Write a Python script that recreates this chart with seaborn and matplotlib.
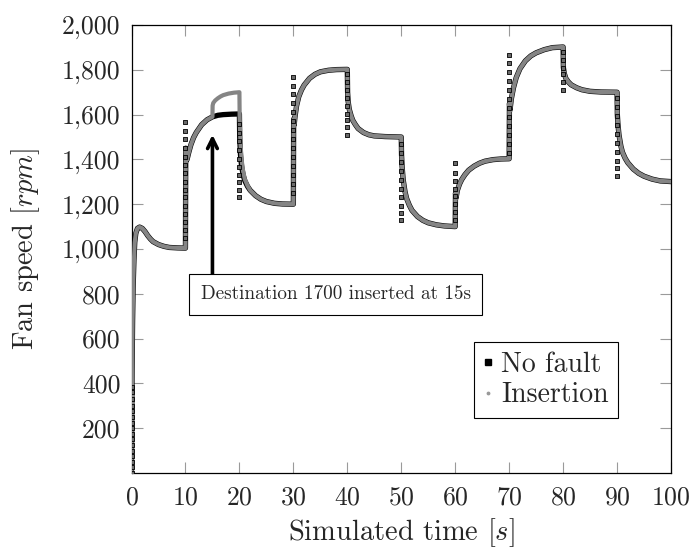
import matplotlib
matplotlib.use("Agg")
import matplotlib.pyplot as plt
import seaborn as sns
import pandas as pd
from matplotlib.lines import Line2D
from matplotlib.ticker import FuncFormatter

# ---- data ----
nofault_time = [0, 0.05, 0.1, 0.2, 0.3, 0.45, 0.6, 0.8, 1.1, 1.5, 2.0, 2.5, 3.0, 3.5, 4.0, 5.0, 6.0, 7.0, 8.5, 10.0,
                10.05, 10.15, 10.3, 10.6, 11.0, 11.5, 12.0, 13.0, 14.0, 15.0, 16.0, 17.0, 18.5, 20.0,
                20.05, 20.2, 20.4, 20.7, 21.0, 21.5, 22.0, 23.0, 24.0, 25.0, 26.5, 28.0, 30.0,
                30.05, 30.15, 30.3, 30.6, 31.0, 31.5, 32.0, 33.0, 34.0, 35.0, 36.5, 38.0, 40.0,
                40.05, 40.15, 40.35, 40.7, 41.0, 41.5, 42.0, 43.0, 44.0, 45.0, 47.0, 50.0,
                50.05, 50.15, 50.35, 50.7, 51.0, 51.5, 52.0, 53.0, 54.0, 55.0, 56.5, 58.0, 60.0,
                60.05, 60.15, 60.4, 60.8, 61.2, 61.8, 62.5, 63.5, 64.5, 65.5, 67.0, 68.5, 70.0,
                70.05, 70.15, 70.4, 70.8, 71.3, 72.0, 73.0, 74.0, 75.0, 76.5, 78.0, 80.0,
                80.05, 80.2, 80.5, 81.0, 81.5, 82.5, 83.5, 85.0, 87.0, 90.0,
                90.05, 90.15, 90.35, 90.7, 91.0, 91.5, 92.0, 93.0, 94.0, 95.0, 96.5, 98.0, 100.0]
nofault_speed = [0, 250, 450, 680, 830, 950, 1030, 1070, 1092, 1098, 1092, 1078, 1060, 1045, 1033, 1020, 1012, 1007, 1005, 1004,
                 1450, 1395, 1400, 1430, 1465, 1497, 1520, 1555, 1577, 1590, 1597, 1600, 1602, 1603,
                 1500, 1420, 1370, 1330, 1305, 1280, 1262, 1238, 1222, 1212, 1204, 1201, 1200,
                 1580, 1555, 1590, 1640, 1680, 1710, 1732, 1762, 1780, 1791, 1798, 1801, 1802,
                 1700, 1660, 1625, 1595, 1575, 1555, 1538, 1520, 1510, 1505, 1502, 1500,
                 1420, 1370, 1310, 1255, 1225, 1195, 1172, 1145, 1128, 1117, 1108, 1103, 1100,
                 1250, 1228, 1262, 1290, 1310, 1332, 1352, 1370, 1383, 1392, 1399, 1402, 1403,
                 1650, 1620, 1670, 1720, 1765, 1805, 1840, 1862, 1876, 1890, 1899, 1902,
                 1810, 1785, 1762, 1745, 1733, 1720, 1711, 1704, 1701, 1700,
                 1600, 1560, 1510, 1460, 1432, 1405, 1385, 1357, 1338, 1325, 1312, 1304, 1301]

# Insertion run differs from the fault-free run only between 15 s and ~21.5 s
insertion_window = (15.0, 21.5)
insertion_dev_time = [15.0, 15.03, 15.15, 15.5, 16.0, 16.5, 17.0, 18.0, 19.0, 20.0,
                      20.05, 20.2, 20.4, 20.7, 21.0, 21.5]
insertion_dev_speed = [1590, 1640, 1652, 1663, 1673, 1681, 1687, 1694, 1698, 1700,
                       1580, 1470, 1400, 1345, 1312, 1283]

# sampled points during the fast set-point changes (black squares)
step_times = [0, 10, 20, 30, 40, 50, 60, 70, 80, 90]
step_samples = [
    [0, 25, 50, 75, 100, 125, 150, 175, 200, 225, 250, 275, 300, 330, 360, 385],
    [1050, 1085, 1120, 1155, 1190, 1230, 1265, 1300, 1340, 1375, 1410, 1450, 1490, 1525, 1565],
    [1560, 1520, 1480, 1440, 1400, 1365, 1330, 1300, 1265, 1230],
    [1250, 1290, 1330, 1370, 1410, 1450, 1490, 1530, 1570, 1610, 1650, 1690, 1730, 1770],
    [1780, 1745, 1710, 1675, 1640, 1605, 1575, 1545, 1510],
    [1470, 1430, 1390, 1350, 1310, 1270, 1230, 1190, 1160, 1130],
    [1130, 1165, 1200, 1235, 1270, 1305, 1340, 1385],
    [1430, 1470, 1510, 1550, 1590, 1630, 1670, 1710, 1750, 1790, 1830, 1865],
    [1880, 1845, 1810, 1780, 1745, 1710],
    [1675, 1635, 1595, 1555, 1515, 1475, 1435, 1395, 1360, 1325],
]

x_ticks = list(range(0, 101, 10))
y_ticks = list(range(200, 2001, 200))
series_labels = ["No fault", "Insertion"]
annotation_text = "Destination 1700 inserted at 15s"
annotation_pos = (37.9, 797)
arrow_tip = (15, 1510)
arrow_tail = (15, 888)

# ---- build tables ----
df_nf = pd.DataFrame({"time": nofault_time, "speed": nofault_speed})
keep = (df_nf["time"] < insertion_window[0]) | (df_nf["time"] > insertion_window[1])
df_ins = pd.concat([df_nf[keep],
                    pd.DataFrame({"time": insertion_dev_time, "speed": insertion_dev_speed})]
                   ).sort_values("time").reset_index(drop=True)
df_steps = pd.DataFrame({
    "time": [t for t, vals in zip(step_times, step_samples) for _ in vals],
    "speed": [v for vals in step_samples for v in vals],
})

# ---- style ----
sns.set_style("ticks")
plt.rcParams.update({
    "font.family": ["cmr10", "DejaVu Serif"],
    "mathtext.fontset": "cm",
    "axes.formatter.use_mathtext": True,
    "axes.unicode_minus": False,
})

fig = plt.figure(figsize=(6.94, 5.5), dpi=100)
ax = fig.add_axes([0.1895, 0.14, 0.7774, 0.8145])

sns.lineplot(data=df_nf, x="time", y="speed", ax=ax, color="black", lw=3.8,
             estimator=None, sort=False, zorder=2)
sns.lineplot(data=df_ins, x="time", y="speed", ax=ax, color="#858585", lw=3.0,
             estimator=None, sort=False, zorder=3)
sns.scatterplot(data=df_steps, x="time", y="speed", ax=ax, marker="s", s=5,
                color="#6a6a6a", edgecolor="black", linewidth=0.6, zorder=4)

ax.set_xlim(0, 100)
ax.set_ylim(0, 2000)
ax.set_xticks(x_ticks)
ax.set_yticks(y_ticks)
ax.yaxis.set_major_formatter(FuncFormatter(lambda v, p: f"{int(v):,}"))
ax.tick_params(direction="in", length=8, width=0.8, color="#9a9a9a",
               top=True, right=True, labelsize=18.5)
ax.tick_params(axis="x", pad=9)
ax.tick_params(axis="y", pad=8)
for s in ax.spines.values():
    s.set_visible(True)
    s.set_color("black")
    s.set_linewidth(0.9)

ax.set_xlabel("Simulated time [$s$]", fontsize=20.5, labelpad=5)
ax.set_ylabel("Fan speed [$rpm$]", fontsize=20.5, labelpad=14)

ax.annotate("", xy=arrow_tip, xytext=arrow_tail,
            arrowprops=dict(arrowstyle="->,head_length=0.7,head_width=0.35", lw=2.6,
                            color="black", shrinkA=0, shrinkB=0), zorder=5)
ax.text(*annotation_pos, annotation_text, ha="center", va="center", fontsize=13.8, zorder=6,
        bbox=dict(boxstyle="square,pad=0.6", fc="white", ec="black", lw=0.8))

handles = [Line2D([], [], ls="none", marker="s", ms=4, color="black"),
           Line2D([], [], ls="none", marker=".", ms=3.5, color="#999999")]
leg = ax.legend(handles, series_labels, loc="lower right", bbox_to_anchor=(0.902, 0.1228),
                frameon=True, fancybox=False, edgecolor="black", framealpha=1,
                handlelength=0.3, handletextpad=0.3, borderpad=0.35, labelspacing=0.15,
                borderaxespad=0, fontsize=20)
leg.get_frame().set_linewidth(0.8)

fig.savefig("out.png", dpi=100)
